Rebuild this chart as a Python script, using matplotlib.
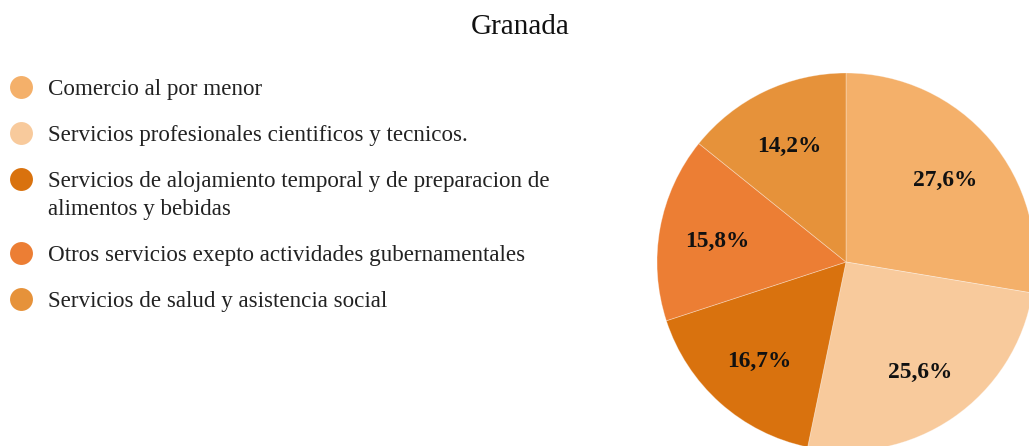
import matplotlib
matplotlib.use("Agg")
import matplotlib.pyplot as plt

plt.rcParams['font.family'] = ['Liberation Serif', 'DejaVu Serif']

title = "Granada"
categories = [
    "Comercio al por menor",
    "Servicios profesionales cientificos y tecnicos.",
    "Servicios de alojamiento temporal y de preparacion de\nalimentos y bebidas",
    "Otros servicios exepto actividades gubernamentales",
    "Servicios de salud y asistencia social",
]
shares = [27.6, 25.6, 16.7, 15.8, 14.2]
colors = ["#F4B06A", "#F8CA9C", "#D9720E", "#EC7E34", "#E6923A"]

W, H, DPI = 1029, 446, 100
fig = plt.figure(figsize=(W / DPI, H / DPI), dpi=DPI)
fig.patch.set_facecolor("white")

# Pie, partly running off the right and bottom edges
cx, cy, r = 846, 262, 189
ax = fig.add_axes([(cx - r) / W, (H - cy - r) / H, 2 * r / W, 2 * r / H])
wedges, texts, autotexts = ax.pie(
    shares, colors=colors, startangle=90, counterclock=False,
    autopct=lambda p: "", pctdistance=0.69,
    wedgeprops=dict(linewidth=0.6, edgecolor=(1, 1, 1, 0.35)),
)
for t, v in zip(autotexts, shares):
    t.set_text(f"{v:.1f}".replace(".", ",") + "%")
    t.set_fontsize(16.8)
    t.set_fontweight("bold")
    t.set_color("#111111")
    t.set_va("center_baseline")
ax.set_xlim(-1, 1)
ax.set_ylim(-1, 1)
ax.set_aspect("equal")
ax.axis("off")

# Overlay in pixel coordinates for title and legend
ov = fig.add_axes([0, 0, 1, 1], zorder=5)
ov.set_xlim(0, W)
ov.set_ylim(H, 0)
ov.axis("off")

ov.text(520, 34.5, title, ha="center", va="baseline", fontsize=21, color="#111111")

y = 87
line_h = 28
gap = 46
for label, col in zip(categories, colors):
    ov.plot([21], [y], marker="o", markersize=16.5, color=col, markeredgewidth=0)
    lines = label.split("\n")
    for k, ln in enumerate(lines):
        ov.text(48, y + 8 + k * line_h, ln, ha="left", va="baseline",
                fontsize=16.6, color="#222222")
    y += gap + (len(lines) - 1) * line_h

fig.savefig("out.png", dpi=DPI, facecolor="white")
